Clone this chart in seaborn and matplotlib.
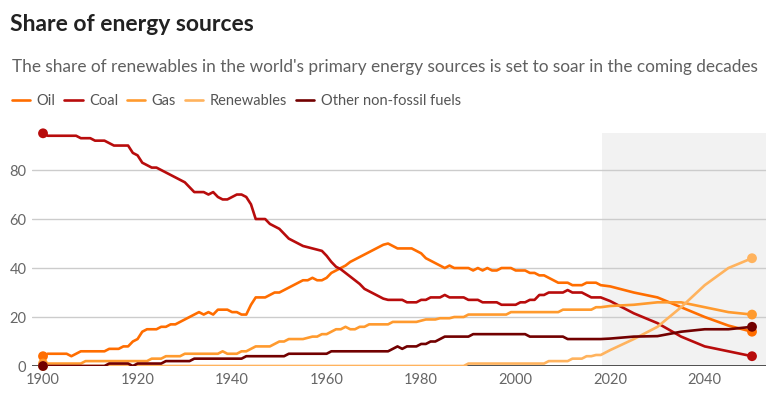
import pandas as pd
import seaborn as sns
import matplotlib.pyplot as plt

# 연도: 1900-2018 실측, 이후는 전망치
years_hist = list(range(1900, 2019))
years_proj = [2020, 2025, 2030, 2035, 2040, 2045, 2050]

oil_hist = [
    4, 5, 5, 5, 5, 5, 4, 5, 6, 6,
    6, 6, 6, 6, 7, 7, 7, 8, 8, 10,
    11, 14, 15, 15, 15, 16, 16, 17, 17, 18,
    19, 20, 21, 22, 21, 22, 21, 23, 23, 23,
    22, 22, 21, 21, 25, 28, 28, 28, 29, 30,
    30, 31, 32, 33, 34, 35, 35, 36, 35, 35,
    36, 38, 39, 40, 41, 42.5, 43.5, 44.5, 45.5, 46.5,
    47.5, 48.5, 49.5, 50, 49, 48, 48, 48, 48, 47,
    46, 44, 43, 42, 41, 40, 41, 40, 40, 40,
    40, 39, 40, 39, 40, 39, 39, 40, 40, 40,
    39, 39, 39, 38, 38, 37, 37, 36, 35, 34,
    34, 34, 33, 33, 33, 34, 34, 34, 33,
]
oil_proj = [32.5, 30, 28, 24, 20, 16.5, 14]

coal_hist = [
    95, 94, 94, 94, 94, 94, 94, 94, 93, 93,
    93, 92, 92, 92, 91, 90, 90, 90, 90, 87,
    86, 83, 82, 81, 81, 80, 79, 78, 77, 76,
    75, 73, 71, 71, 71, 70, 71, 69, 68, 68,
    69, 70, 70, 69, 66, 60, 60, 60, 58, 57,
    56, 54, 52, 51, 50, 49, 48.5, 48, 47.5, 47,
    45, 42.5, 40.5, 39.5, 38, 36.5, 35, 33.5, 31.5, 30.5,
    29.5, 28.5, 27.5, 27, 27, 27, 27, 26, 26, 26,
    27, 27, 28, 28, 28, 29, 28, 28, 28, 28,
    27, 27, 27, 26, 26, 26, 26, 25, 25, 25,
    25, 26, 26, 27, 27, 29, 29, 30, 30, 30,
    30, 31, 30, 30, 30, 29, 28, 28, 28,
]
coal_proj = [26.5, 21.5, 17.5, 12, 8, 6, 4]

gas_hist = [
    1, 1, 1, 1, 1, 1, 1, 1, 1, 2,
    2, 2, 2, 2, 2, 2, 2, 2, 2, 2,
    2, 2, 2, 3, 3, 3, 4, 4, 4, 4,
    5, 5, 5, 5, 5, 5, 5, 5, 6, 5,
    5, 5, 6, 6, 7, 8, 8, 8, 8, 9,
    10, 10, 11, 11, 11, 11, 11.5, 12, 12, 13,
    13, 14, 15, 15, 16, 15, 15, 16, 16, 17,
    17, 17, 17, 17, 18, 18, 18, 18, 18, 18,
    18.5, 19, 19, 19, 19.5, 19.5, 19.5, 20, 20, 20,
    21, 21, 21, 21, 21, 21, 21, 21, 21, 22,
    22, 22, 22, 22, 22, 22, 22, 22, 22, 22,
    23, 23, 23, 23, 23, 23, 23, 24, 24,
]
gas_proj = [24.5, 25, 26, 26, 24, 22, 21]

renew_hist = [
    0, 0, 0, 0, 0, 0, 0, 0, 0, 0,
    0, 0, 0, 0, 0, 0, 0, 0, 0, 0,
    0, 0, 0, 0, 0, 0, 0, 0, 0, 0,
    0, 0, 0, 0, 0, 0, 0, 0, 0, 0,
    0, 0, 0, 0, 0, 0, 0, 0, 0, 0,
    0, 0, 0, 0, 0, 0, 0, 0, 0, 0,
    0, 0, 0, 0, 0, 0, 0, 0, 0, 0,
    0, 0, 0, 0, 0, 0, 0, 0, 0, 0,
    0, 0, 0, 0, 0, 0, 0, 0, 0, 0,
    1, 1, 1, 1, 1, 1, 1, 1, 1, 1,
    1, 1, 1, 1, 1, 1, 1, 2, 2, 2,
    2, 2, 3, 3, 3, 4, 4, 4.5, 4.5,
]
renew_proj = [6.5, 11, 16, 24, 33, 40, 44]

other_hist = [
    0, 0, 0, 0, 0, 0, 0, 0, 0, 0,
    0, 0, 0, 0, 1, 1, 1, 1, 1, 0,
    1, 1, 1, 1, 1, 1, 2, 2, 2, 2,
    2, 2, 3, 3, 3, 3, 3, 3, 3, 3,
    3, 3, 3, 4, 4, 4, 4, 4, 4, 4,
    4, 4, 5, 5, 5, 5, 5, 5, 5, 5,
    5, 6, 6, 6, 6, 6, 6, 6, 6, 6,
    6, 6, 6, 6, 7, 8, 7, 8, 8, 8,
    9, 9, 10, 10, 11, 12, 12, 12, 12, 12,
    12, 13, 13, 13, 13, 13, 13, 13, 13, 13,
    13, 13, 13, 12, 12, 12, 12, 12, 12, 12,
    12, 11, 11, 11, 11, 11, 11, 11, 11,
]
other_proj = [11.2, 12, 12.2, 14, 15, 15, 16]

sources = ['Oil', 'Coal', 'Gas', 'Renewables', 'Other non-fossil fuels']
colors = ['#ff6d00', '#b80c0c', '#ff9a2e', '#ffb35e', '#720000']

# long-form 데이터
years = years_hist + years_proj
series = [oil_hist + oil_proj, coal_hist + coal_proj, gas_hist + gas_proj,
          renew_hist + renew_proj, other_hist + other_proj]
df = pd.concat([pd.DataFrame({'year': years, 'share': s, 'source': n})
                for n, s in zip(sources, series)], ignore_index=True)
ends = df[df['year'].isin([1900, 2050])]

sns.set_theme(style='white')
plt.rcParams['font.family'] = ['Lato', 'DejaVu Sans']

fig = plt.figure(figsize=(7.77, 4.09), dpi=100)
ax = fig.add_axes([32 / 777, 43 / 409, 734 / 777, 232.7 / 409])
ax.set_xlim(1897.67, 2052.96)
ax.set_ylim(0, 95)

# 전망 구간 음영
ax.axvspan(2018.2, 2052.96, ymin=0, ymax=1, color='#f2f2f2', zorder=0, lw=0)
for v in [20, 40, 60, 80]:
    ax.axhline(v, color='#cccccc', lw=1, zorder=1)
ax.axhline(0, color='#333333', lw=1.2, zorder=1)

palette = dict(zip(sources, colors))
sns.lineplot(data=df, x='year', y='share', hue='source', palette=palette,
             hue_order=sources, linewidth=1.9, ax=ax, sort=False, zorder=3)
sns.scatterplot(data=ends, x='year', y='share', hue='source', palette=palette,
                hue_order=sources, s=50, linewidth=0, ax=ax, legend=False,
                zorder=4, clip_on=False)

handles, labels = ax.get_legend_handles_labels()
ax.get_legend().remove()
fig.legend(handles, labels, loc='center left', bbox_to_anchor=(12 / 777, 1 - 101 / 409),
           ncol=5, frameon=False, fontsize=10.5, handlelength=1.25, handletextpad=0.45,
           columnspacing=0.6, borderpad=0, borderaxespad=0, labelcolor='#555555')

ax.set_xticks([1900, 1920, 1940, 1960, 1980, 2000, 2020, 2040])
ax.set_yticks([0, 20, 40, 60, 80])
ax.tick_params(axis='both', length=0, labelsize=10.5, labelcolor='#666666')
ax.tick_params(axis='y', pad=4)
ax.tick_params(axis='x', pad=5)
ax.set_xlabel('')
ax.set_ylabel('')
sns.despine(ax=ax, left=True, bottom=True)

fig.text(10 / 777, 1 - 31 / 409, 'Share of energy sources', fontsize=16.5,
         fontweight='bold', color='#222222')
fig.text(12 / 777, 1 - 72 / 409,
         "The share of renewables in the world's primary energy sources is set to soar in the coming decades",
         fontsize=12.45, color='#606060', fontweight='normal')

fig.savefig('out.png', dpi=100)
